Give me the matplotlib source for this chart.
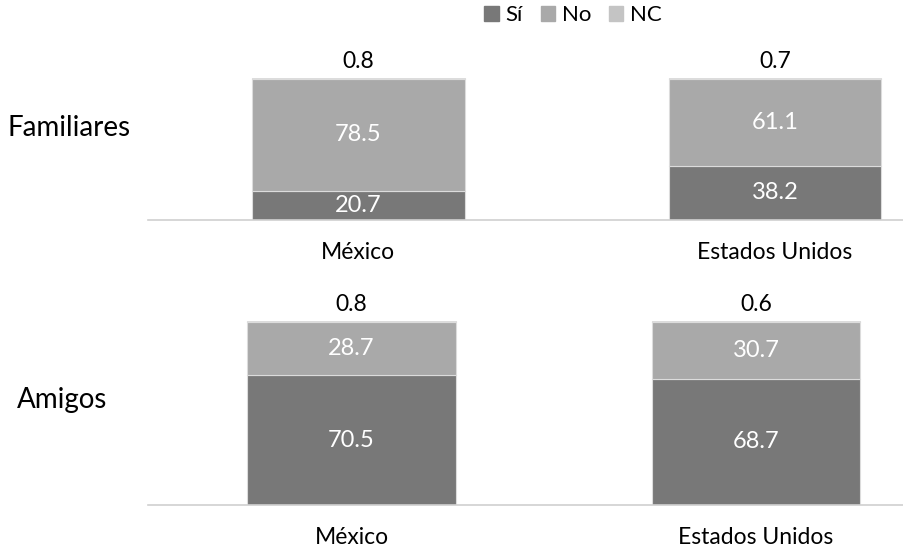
import matplotlib.pyplot as plt
import numpy as np

plt.rcParams["font.family"] = ["Lato", "DejaVu Sans"]

# ==========================================================
# Data
# ==========================================================

countries = ["México", "Estados Unidos"]
groups = ["Familiares", "Amigos"]

si_values = {"Familiares": [20.7, 38.2], "Amigos": [70.5, 68.7]}
no_values = {"Familiares": [78.5, 61.1], "Amigos": [28.7, 30.7]}
nc_values = {"Familiares": [0.8, 0.7], "Amigos": [0.8, 0.6]}

series_names = ["Sí", "No", "NC"]
series_colors = ["#787878", "#a9a9a9", "#c4c4c4"]

# ==========================================================
# Figure
# ==========================================================

W, H = 904, 553
fig = plt.figure(figsize=(W / 100, H / 100), dpi=100)

# baseline / top in pixels, x limits, bar width, row label position
panels = {
    "Familiares": dict(base=220, top=78, xlim=(-0.505, 1.31), width=0.51, label_y=128, label_x=7),
    "Amigos": dict(base=505, top=321, xlim=(-0.503, 1.366), width=0.515, label_y=400, label_x=17),
}

for group in groups:
    p = panels[group]
    ax = fig.add_axes([
        148 / W,
        (H - p["base"]) / H,
        (W - 148) / W,
        (p["base"] - p["top"]) / H,
    ])

    x = np.arange(len(countries))
    si = np.array(si_values[group])
    no = np.array(no_values[group])
    nc = np.array(nc_values[group])

    ax.bar(x, si, p["width"], color=series_colors[0],
           edgecolor="#dcdcdc", linewidth=0.8, zorder=2)
    ax.bar(x, no, p["width"], bottom=si, color=series_colors[1],
           edgecolor="#dcdcdc", linewidth=0.8, zorder=2)
    ax.bar(x, nc, p["width"], bottom=si + no, color=series_colors[2],
           edgecolor="#dcdcdc", linewidth=0.8, zorder=2)

    for i in range(len(countries)):
        ax.text(x[i], si[i] / 2, f"{si[i]:.1f}", ha="center", va="center",
                color="white", fontsize=17)
        ax.text(x[i], si[i] + no[i] / 2, f"{no[i]:.1f}", ha="center",
                va="center", color="white", fontsize=17)
        ax.annotate(f"{nc[i]:.1f}", (x[i], si[i] + no[i] + nc[i]),
                    xytext=(0, 4), textcoords="offset points",
                    ha="center", va="bottom", fontsize=16.5, color="black")

    ax.set_xlim(*p["xlim"])
    ax.set_ylim(0, 100)
    ax.set_xticks(x)
    ax.set_xticklabels(countries, fontsize=16.5)
    ax.tick_params(axis="x", length=0, pad=16)
    ax.set_yticks([])

    for side in ["top", "right", "left"]:
        ax.spines[side].set_visible(False)
    ax.spines["bottom"].set_color("#d0d0d0")
    ax.spines["bottom"].set_linewidth(1.2)

    fig.text(p["label_x"] / W, 1 - p["label_y"] / H, group,
             ha="left", va="center", fontsize=20)

# ==========================================================
# Legend
# ==========================================================

handles = [plt.Rectangle((0, 0), 1, 1, color=c) for c in series_colors]
fig.legend(
    handles,
    series_names,
    loc="center",
    bbox_to_anchor=(573 / W, 1 - 15 / H),
    ncol=3,
    frameon=False,
    fontsize=16,
    handlelength=0.65,
    handleheight=0.65,
    handletextpad=0.3,
    columnspacing=0.8,
)

plt.savefig("out.png", dpi=100)
plt.close()
